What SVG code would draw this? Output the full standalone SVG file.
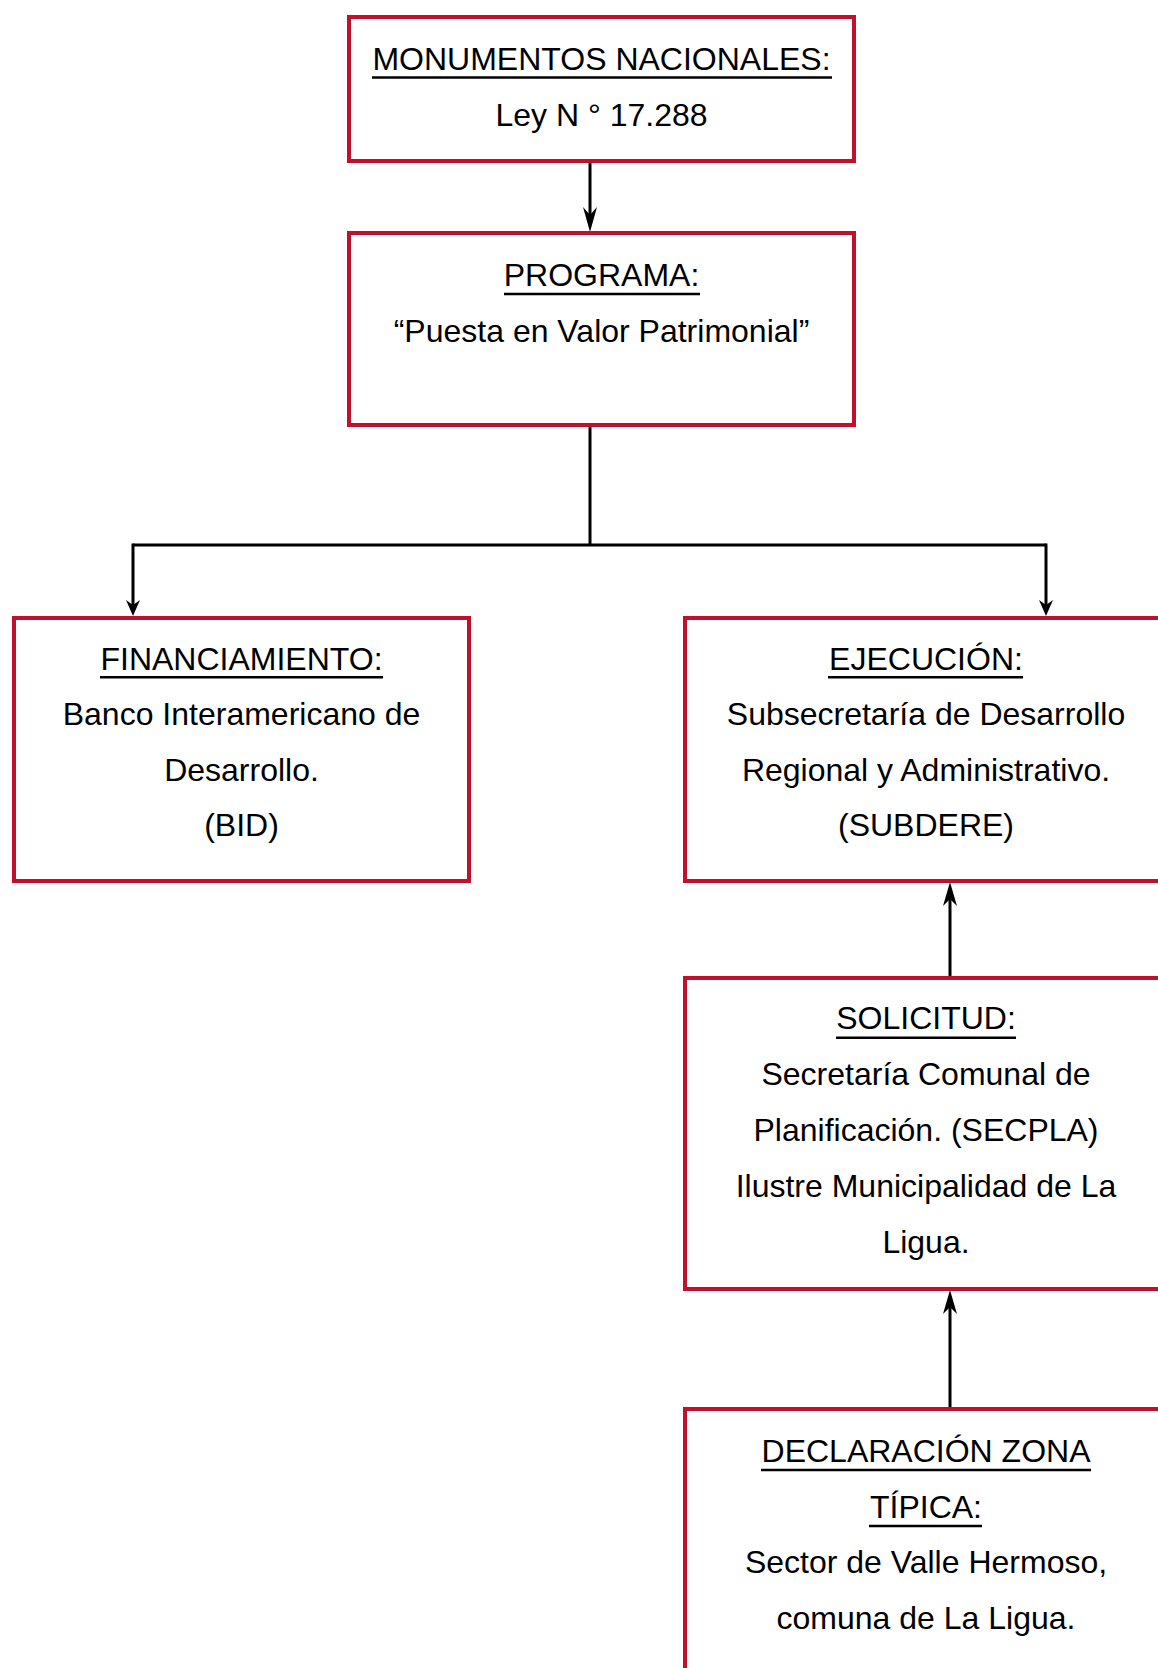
<svg xmlns="http://www.w3.org/2000/svg" width="1158" height="1668" viewBox="0 0 1158 1668">
  <style>
    .box { fill: #ffffff; stroke: #C0102C; stroke-width: 4; }
    .t { font-family: "Liberation Sans", Arial, sans-serif; font-size: 32px; fill: #000000; text-anchor: middle; }
    .ul { stroke: #000000; stroke-width: 2.5; }
    .conn { stroke: #000000; stroke-width: 3; fill: none; }
    .head { fill: #000000; stroke: none; }
  </style>
  <rect x="0" y="0" width="1158" height="1668" fill="#ffffff"/>

  <g id="connectors">
    <line class="conn" x1="590" y1="163" x2="590" y2="222"/>
    <path class="head" d="M590,232 L583,207 L590,215 L597,207 Z"/>
    <line class="conn" x1="590" y1="427" x2="590" y2="545"/>
    <line class="conn" x1="133" y1="545" x2="1046" y2="545"/>
    <line class="conn" x1="133" y1="543.5" x2="133" y2="608"/>
    <path class="head" d="M133,616 L126,600 L133,605 L140,600 Z"/>
    <line class="conn" x1="1046" y1="543.5" x2="1046" y2="608"/>
    <path class="head" d="M1046,616 L1039,600 L1046,605 L1053,600 Z"/>
    <line class="conn" x1="950" y1="976" x2="950" y2="893"/>
    <path class="head" d="M950,882 L943,906 L950,899 L957,906 Z"/>
    <line class="conn" x1="950" y1="1407" x2="950" y2="1301"/>
    <path class="head" d="M950,1290 L943,1314 L950,1307 L957,1314 Z"/>
  </g>

  <g id="n1">
    <rect class="box" x="349" y="17" width="505" height="144"/>
    <text class="t" x="601.5" y="70">MONUMENTOS NACIONALES:</text>
    <line class="ul" x1="372" y1="77.5" x2="832" y2="77.5"/>
    <text class="t" x="601.5" y="126">Ley N ° 17.288</text>
  </g>

  <g id="n2">
    <rect class="box" x="349" y="233" width="505" height="192"/>
    <text class="t" x="601.5" y="286">PROGRAMA:</text>
    <line class="ul" x1="504" y1="294" x2="700" y2="294"/>
    <text class="t" x="601.5" y="342">“Puesta en Valor Patrimonial”</text>
  </g>

  <g id="n3">
    <rect class="box" x="14" y="618" width="455" height="263"/>
    <text class="t" x="241.5" y="670">FINANCIAMIENTO:</text>
    <line class="ul" x1="100" y1="677.3" x2="383" y2="677.3"/>
    <text class="t" x="241.5" y="725">Banco Interamericano de</text>
    <text class="t" x="241.5" y="781">Desarrollo.</text>
    <text class="t" x="241.5" y="836">(BID)</text>
  </g>

  <g id="n4">
    <rect class="box" x="685" y="618" width="482" height="263"/>
    <text class="t" x="926" y="670">EJECUCIÓN:</text>
    <line class="ul" x1="828" y1="677.3" x2="1023" y2="677.3"/>
    <text class="t" x="926" y="725">Subsecretaría de Desarrollo</text>
    <text class="t" x="926" y="781">Regional y Administrativo.</text>
    <text class="t" x="926" y="836">(SUBDERE)</text>
  </g>

  <g id="n5">
    <rect class="box" x="685" y="978" width="482" height="311"/>
    <text class="t" x="926" y="1029">SOLICITUD:</text>
    <line class="ul" x1="836" y1="1037.7" x2="1016" y2="1037.7"/>
    <text class="t" x="926" y="1085">Secretaría Comunal de</text>
    <text class="t" x="926" y="1141">Planificación. (SECPLA)</text>
    <text class="t" x="926" y="1197">Ilustre Municipalidad de La</text>
    <text class="t" x="926" y="1253">Ligua.</text>
  </g>

  <g id="n6">
    <rect class="box" x="685" y="1409" width="482" height="300"/>
    <text class="t" x="926" y="1462">DECLARACIÓN ZONA</text>
    <line class="ul" x1="761" y1="1470" x2="1091" y2="1470"/>
    <text class="t" x="926" y="1518">TÍPICA:</text>
    <line class="ul" x1="869" y1="1526" x2="982" y2="1526"/>
    <text class="t" x="926" y="1573">Sector de Valle Hermoso,</text>
    <text class="t" x="926" y="1629">comuna de La Ligua.</text>
  </g>
</svg>
